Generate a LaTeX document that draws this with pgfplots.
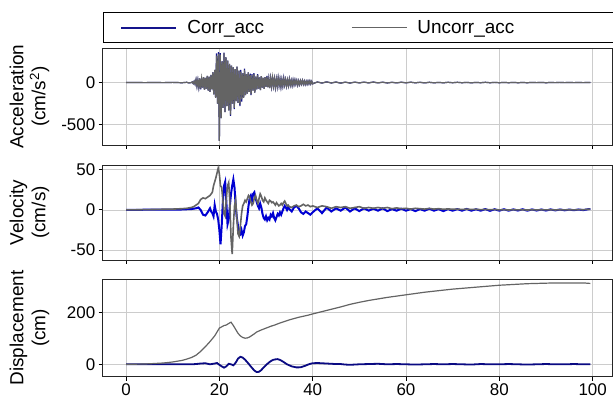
\documentclass[border=0pt]{standalone}
\usepackage{pgfplots}
\usepackage{pgfplotstable}
\pgfplotsset{compat=1.18}
\usepackage{fontspec}
\setmainfont{Liberation Sans}
\definecolor{corrA}{RGB}{20,20,140}
\definecolor{corrV}{RGB}{0,0,210}
\definecolor{corrD}{RGB}{10,10,130}
\definecolor{uncg}{RGB}{100,100,100}

\pgfplotstableread{
t u c
0 0 0
2 1 1
4 -1 -1
6 1 1
8 -1 -1
10 2 2
12 -2 -2
13 3 3
13.5 -4 -4
14.0 0 0
14.2 8 8
14.4 -12 -12
14.6 15 15
14.8 -20 -20
15.0 35 35
15.2 -45 -45
15.4 30 30
15.6 -55 -55
15.8 50 50
16.0 -70 -80
16.2 45 45
16.4 -60 -60
16.6 65 65
16.8 -85 -85
17.0 55 55
17.2 -75 -75
17.4 80 80
17.6 -95 -95
17.8 70 70
18.0 -110 -110
18.2 90 90
18.4 -80 -80
18.6 120 120
18.8 -140 -140
19.0 150 150
19.2 -180 -180
19.4 320 345
19.6 -250 -250
19.8 340 360
20.0 -690 -690
20.2 330 350
20.4 -420 -420
20.6 250 250
20.8 -300 -300
21.0 345 355
21.2 -350 -350
21.4 300 300
21.6 -280 -280
21.8 260 260
22.0 -330 -330
22.2 220 220
22.4 -380 -395
22.6 200 200
22.8 -250 -250
23.0 180 180
23.2 -300 -315
23.4 160 160
23.6 -220 -220
23.8 190 190
24.0 -240 -240
24.2 140 140
24.4 -260 -280
24.6 130 150
24.8 -200 -225
25.0 110 110
25.2 -180 -180
25.4 150 165
25.6 -150 -150
25.8 100 100
26.0 -130 -130
26.2 120 120
26.4 -110 -110
26.6 90 105
26.8 -140 -150
27.0 85 100
27.2 -95 -95
27.4 100 112
27.6 -120 -120
27.8 70 70
28.0 -80 -80
28.2 90 100
28.4 -70 -70
28.6 60 60
28.8 -90 -90
29.0 75 75
29.2 -60 -60
29.4 55 55
29.6 -75 -75
29.8 65 65
30.0 -50 -50
30.2 70 80
30.4 -55 -55
30.6 45 45
30.8 -65 -65
31.0 50 50
31.2 -45 -45
31.4 60 68
31.6 -40 -40
31.8 45 45
32.0 -55 -55
32.2 40 40
32.4 -45 -45
32.6 55 55
32.8 -35 -35
33.0 40 40
33.2 -50 -50
33.4 35 35
33.6 -40 -40
33.8 45 52
34.0 -30 -30
34.2 35 35
34.4 -40 -40
34.6 30 30
34.8 -35 -35
35.0 40 40
35.2 -30 -30
35.4 25 25
35.6 -35 -35
35.8 30 30
36.0 -25 -25
36.2 30 30
36.4 -20 -20
36.6 25 25
36.8 -30 -30
37.0 20 20
37.2 -25 -25
37.4 22 22
37.6 -18 -18
37.8 25 25
38.0 -20 -20
38.2 18 18
38.4 -22 -22
38.6 15 15
38.8 -20 -20
39.0 18 18
39.2 -15 -15
39.4 20 20
39.6 -16 -16
39.8 14 14
40.0 -15 -15
41 7 7
42 -6 -6
43 8 8
44 -5 -5
45 6 6
46 -7 -7
47 5 5
48 -6 -6
49 5 5
50 -4 -4
51 5 5
52 -4 -4
53 6 6
54 -4 -4
55 4 4
56 -5 -5
57 3 3
58 -4 -4
59 4 4
60 -3 -3
61 4 4
62 -3 -3
63 3 3
64 -4 -4
65 3 3
66 -3 -3
67 2 2
68 -3 -3
69 3 3
70 -2 -2
71 3 3
72 -2 -2
73 2 2
74 -3 -3
75 2 2
76 -2 -2
77 3 3
78 -2 -2
79 2 2
80 -2 -2
81 2 2
82 -2 -2
83 2 2
84 -2 -2
85 1 1
86 -2 -2
87 2 2
88 -1 -1
89 2 2
90 -2 -2
91 1 1
92 -1 -1
93 2 2
94 -1 -1
95 1 1
96 -1 -1
97 1 1
98 -1 -1
99 1 1
99.5 0 0
}\acc

\pgfplotstableread{
t u c
0 0 0
2 0.1 0.1
4 0.3 0.2
6 0.5 0.2
8 0.8 0.3
10 1.0 0.3
12 1.5 0.5
13 2 0.8
14 3 1
14.5 4 1.5
15 6 2
15.5 8 3
16 13 0
16.5 15 -6
17 14 -7
17.5 16 -3
18 18 2
18.25 20 -2
18.5 22 -4
18.75 30 -8
19 35 6
19.25 40 -2
19.5 46 -5
19.75 52 -12
20 45 -25
20.25 30 -43
20.5 28 -20
20.75 12 10
21 -5 30
21.25 -8 35
21.5 15 10
21.75 30 -18
22 34 -12
22.25 10 5
22.5 -35 20
22.75 -55 30
23 -20 38
23.25 5 28
23.5 12 5
23.75 -10 -10
24 -30 -20
24.25 -33 -28
24.5 -20 -30
24.75 -5 -25
25 5 -32
25.25 8 -28
25.5 12 -20
25.75 10 -18
26 14 -8
26.25 18 5
26.5 16 15
26.75 10 18
27 6 12
27.25 8 20
27.5 15 22
27.75 18 15
28 12 10
28.25 8 5
28.5 14 2
28.75 20 8
29 17 3
29.25 12 -5
29.5 10 -10
29.75 15 -12
30 12 -8
30.25 10 -13
30.5 8 -10
30.75 12 -12
31 11 -6
31.25 9 -8
31.5 10 -4
31.75 8 -10
32 6 -13
32.25 9 -9
32.5 7 -5
32.75 5 -7
33 6 -3
33.25 8 -6
33.5 6 -2
33.75 9 2
34 11 5
34.25 8 3
34.5 5 0
34.75 6 4
35 4 1
35.5 3 -2
36 5 3
36.5 6 5
37 4 2
37.5 5 -3
38 7 -5
38.5 5 -2
39 6 -4
39.5 4 -6
40 5 -3
41 3 2
42 5 -4
43 4 3
44 2 -2
45 4 2
46 3 -1
47 4 3
48 2 -2
49 3 2
50 4 -1.5
51 2 2
52 3 -1
53 2 1.5
54 3 -1
55 2 2
56 3 -1.5
57 1.5 1
58 2.5 -1
59 1.5 1.5
60 2 -1
61 1 1
62 2 -1.5
63 1.5 1
64 1 -1
65 1.8 1.5
66 1 -1
67 1.5 1
68 0.8 -1.5
69 1.2 1
70 0.8 -1
71 1 1
72 0.5 -1
73 1 1.2
74 0.5 -1
75 0.8 0.8
76 0.3 -1
77 0.6 1
78 0.2 -1.2
79 0.5 0.8
80 0 -1
81 0.3 0.8
82 -0.2 -1
83 0.3 0.6
84 0 -0.8
85 0.2 0.8
86 -0.2 -1
87 0.2 0.6
88 -0.1 -0.8
89 0.2 0.5
90 0 -0.8
91 0.2 0.6
92 -0.1 -0.6
93 0.2 0.5
94 0 -0.5
95 0.2 0.4
96 0 -0.4
97 0.3 0.5
98 0.2 -0.3
99 0.8 0.8
99.5 1 1
}\vel

\pgfplotstableread{
t d
0 0
4 1
8 5
10 9
12 15
13 20
14 26
15 35
16 50
17 68
18 88
19 110
19.5 125
20 140
20.5 145
21 150
21.5 152
22 158
22.5 163
23 150
23.5 135
24 120
24.5 110
25 104
25.5 101
26 102
26.5 106
27 112
27.5 118
28 125
29 133
30 140
31 147
32 153
33 160
34 166
35 172
36 177
37 182
38 186
39 190
40 195
42 204
44 213
46 222
48 232
50 240
52 247
54 253
56 259
58 264
60 269
62 274
64 279
66 283
68 287
70 291
72 294
74 297
76 300
78 303
80 306
82 308
84 310
86 312
88 313
90 314
92 315
94 315
96 315
98 315
99.5 313
}\dispU

\pgfplotstableread{
t d
0 0
14 0
15 1
16 3
17 4
18 0
19 3
19.5 5
20 -2
20.5 -8
21 -13
21.5 -8
22 2
22.5 0
23 -4
23.5 6
24 22
24.5 29
25 26
25.5 18
26 8
26.5 -3
27 -14
27.5 -24
28 -30
28.5 -29
29 -22
29.5 -12
30 -3
30.5 5
31 12
31.5 17
32 19
32.5 20
33 17
33.5 12
34 6
34.5 0
35 -4
35.5 -8
36 -10
36.5 -12
37 -12
37.5 -11
38 -8
38.5 -5
39 -1
39.5 2
40 4
41 5
42 4
43 3
44 2
45 1
46 1
47 -1
48 -2
49 -1
50 0
52 1
54 2
56 0
58 1
60 0
62 -1
64 0
66 1
68 0
70 1
72 0
74 -1
76 1
78 0
80 0
82 1
84 0
86 -1
88 0
90 1
92 0
94 0
96 1
98 0
99.5 0
}\dispC

\pgfplotsset{panel/.style={
  scale only axis, width=510bp,
  xmin=-5, xmax=104.3,
  xtick={0,20,...,100},
  tick align=outside, xtick pos=bottom, ytick pos=left,
  grid=major, grid style={black!20, line width=0.7bp},
  axis line style={black!85, line width=0.9bp},
  major tick length=4bp,
  every tick/.style={black, line width=0.9bp},
  ticklabel style={font=\fontsize{17}{17}\selectfont},
  xticklabel style={inner sep=1bp, text depth=0pt, yshift=-1.5bp},
  /pgf/number format/assume math mode=true,
  every axis y label/.style={at={([xshift=-50bp]axis description cs:0,0.5)}, anchor=south, rotate=90,
    font=\fontsize{19}{22}\selectfont, align=center},
}}

\begin{document}
\begin{tikzpicture}
\path[use as bounding box] (0,0) rectangle (613bp,398bp);
% top panel: acceleration
\begin{axis}[panel, at={(102.7bp,253bp)}, anchor=south west, height=96.7bp,
  ymin=-740, ymax=406, ytick={-500,0}, xticklabels={},
  ylabel={Acceleration\\(cm/s\textsuperscript{2})},
  legend columns=2,
  legend image code/.code={\path[draw=.] (0bp,0bp) (17bp,0bp) -- (72bp,0bp) (82bp,0bp);},
  legend style={at={(0,1)}, anchor=south west, yshift=5bp, draw=black, line width=1bp,
    inner xsep=0pt, inner ysep=0pt, column sep=0pt,
    nodes={inner sep=0pt, minimum height=30bp, font=\fontsize{19}{22}\selectfont}},
]
\addplot[corrA, line width=1.2bp, legend image post style={line width=2.2bp}] table[x=t, y=c] {\acc};
\addplot[uncg, line width=1.2bp, legend image post style={line width=1.1bp, draw=black!50}] table[x=t, y=u] {\acc};
\addlegendentry{\makebox[147bp][l]{Corr\_acc}}
\addlegendentry{\makebox[198bp][l]{Uncorr\_acc}}
\end{axis}
% middle panel: velocity
\begin{axis}[panel, at={(102.7bp,138bp)}, anchor=south west, height=95bp,
  ymin=-62.5, ymax=56, ytick={-50,0,50}, xticklabels={},
  ylabel={Velocity\\(cm/s)}]
\addplot[corrV, line width=2bp] table[x=t, y=c] {\vel};
\addplot[uncg, line width=1.6bp] table[x=t, y=u] {\vel};
\end{axis}
% bottom panel: displacement
\begin{axis}[panel, at={(102.7bp,21.3bp)}, anchor=south west, height=97.4bp,
  ymin=-48, ymax=329, ytick={0,200},
  ylabel={Displacement\\(cm)}]
\addplot[corrD, line width=1.8bp] table[x=t, y=d] {\dispC};
\addplot[uncg, line width=1.2bp] table[x=t, y=d] {\dispU};
\end{axis}
\end{tikzpicture}
\end{document}
